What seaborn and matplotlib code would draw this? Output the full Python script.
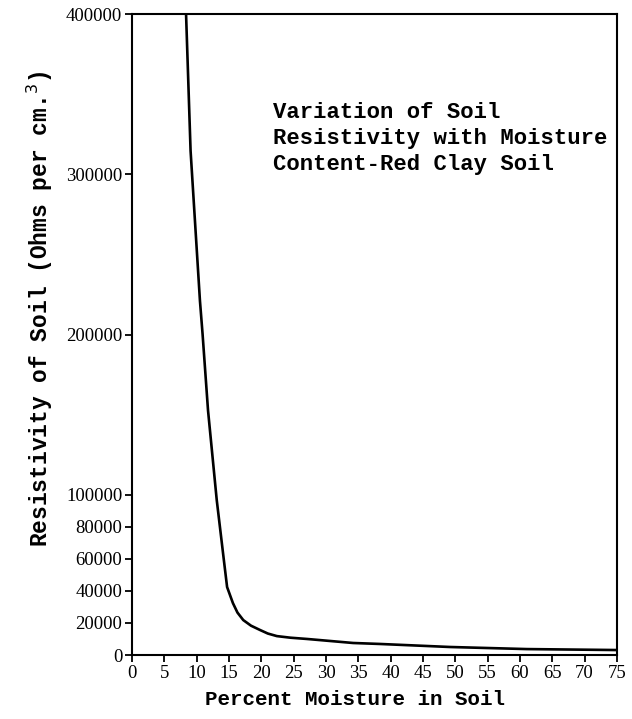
import matplotlib
matplotlib.use("Agg")
import matplotlib.pyplot as plt
import seaborn as sns
import pandas as pd

# Soil moisture (%) and resistivity (ohms per cm^3), red clay soil
moisture = [8.35, 9.05, 10.5, 10.9, 11.75, 12.8, 13.1, 14.2, 14.7, 15.6, 16.3, 17.2, 18.4, 19.8, 21.0, 22.4, 24.5, 27.1, 34.2, 38.3, 49.2, 61.1, 75.0]
resistivity = [400000, 314600, 221000, 200600, 152600, 109000, 96600, 59200, 42400, 32400, 26500, 21800, 18300, 15600, 13400, 11800, 10800, 10000, 7500, 6900, 5000, 3700, 3100]

x_ticks = list(range(0, 80, 5))
y_ticks = [0, 20000, 40000, 60000, 80000, 100000, 200000, 300000, 400000]
y_tick_labels = ["0", "20000", "40000", "60000", "80000", "100000", "200000", "300000", "400000"]

title_lines = ["Variation of Soil", "Resistivity with Moisture", "Content-Red Clay Soil"]

sns.set_style("ticks")
plt.rcParams["font.family"] = ["Liberation Mono", "DejaVu Sans Mono"]

df = pd.DataFrame({"moisture": moisture, "resistivity": resistivity})

fig = plt.figure(figsize=(6.32, 7.19), dpi=100)
ax = fig.add_axes([0.209, 0.089, 0.767, 0.8915])

sns.lineplot(data=df, x="moisture", y="resistivity", ax=ax, color="black",
             linewidth=1.9, sort=False)

ax.set_xlim(0, 75)
ax.set_ylim(0, 400000)
ax.set_xticks(x_ticks)
ax.set_xticklabels([str(t) for t in x_ticks], family="Liberation Serif", fontsize=13.5)
ax.set_yticks(y_ticks)
ax.set_yticklabels(y_tick_labels, family="Liberation Serif", fontsize=13.5)
ax.tick_params(axis="both", direction="out", length=5, width=1.3, color="black",
               labelcolor="black", pad=2)

for side in ["left", "right", "top", "bottom"]:
    ax.spines[side].set_visible(True)
    ax.spines[side].set_color("black")
    ax.spines[side].set_linewidth(1.5)

ax.set_xlabel("Percent Moisture in Soil", fontsize=15, fontweight="bold", color="black")
ax.set_ylabel("Resistivity of Soil (Ohms per cm.$^3$)", fontsize=16.5, fontweight="bold", color="black")
ax.xaxis.set_label_coords(0.46, -0.055)
ax.yaxis.set_label_coords(-0.16, 0.54)

ax.text(0.291, 0.862, "\n".join(title_lines), transform=ax.transAxes,
        fontsize=16, fontweight="bold", color="black", va="top", ha="left",
        linespacing=1.3)

fig.savefig("out.png", dpi=100, facecolor="white")
